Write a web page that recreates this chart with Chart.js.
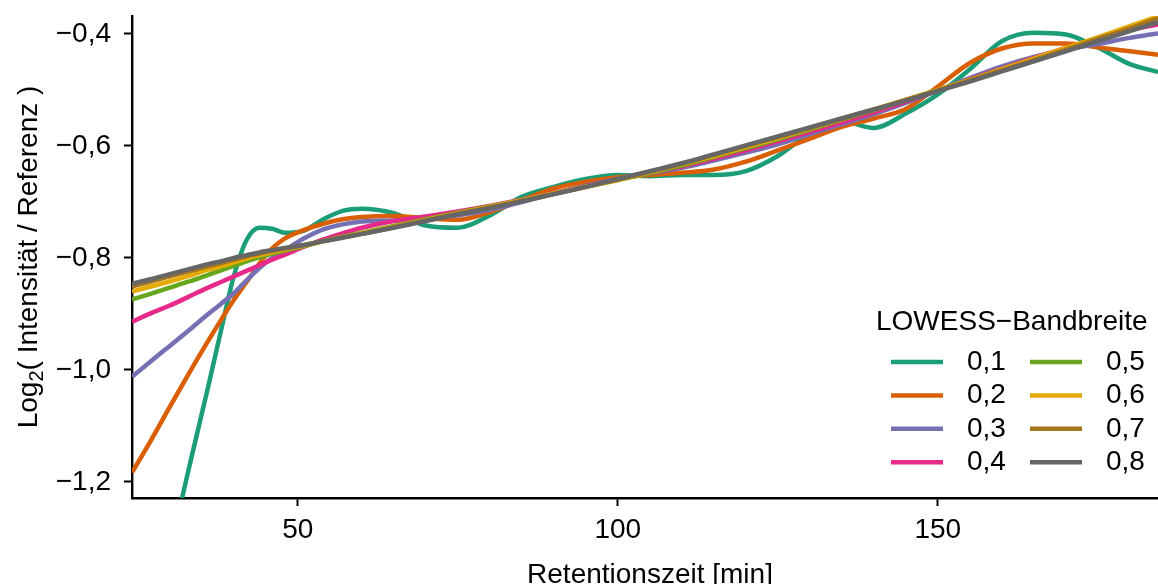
<!DOCTYPE html>
<html>
<head>
<meta charset="utf-8">
<title>LOWESS-Glättung</title>
<script src="https://cdn.jsdelivr.net/npm/chart.js@4"></script>
<style>
  html, body { margin: 0; padding: 0; background: #fff; }
  #wrap { width: 1158px; height: 584px; }
</style>
</head>
<body>
<div id="wrap"><canvas id="lowessChart" width="1158" height="584"></canvas></div>
<script>
// Retentionszeit [min]
var rt = [24.1, 27, 30, 33, 36, 38, 40, 42, 44, 46, 48, 51, 54, 57, 60, 65, 70, 75, 80, 85,
          90, 95, 100, 105, 110, 115, 120, 125, 130, 135, 140, 145, 150, 155, 160, 165, 170, 175, 180, 184.4];

// geglättete Log2-Verhältnisse je Bandbreite
var bw01 = [-1.62, -1.47, -1.325, -1.175, -1.03, -0.93, -0.833, -0.768, -0.746, -0.748, -0.755, -0.751, -0.731, -0.716, -0.712, -0.720, -0.742, -0.746, -0.724, -0.691,
            -0.673, -0.659, -0.652, -0.654, -0.652, -0.652, -0.645, -0.618, -0.578, -0.556, -0.568, -0.542, -0.508, -0.463, -0.413, -0.398, -0.401, -0.424, -0.454, -0.468];
var bw02 = [-1.183, -1.127, -1.066, -1.006, -0.948, -0.911, -0.875, -0.843, -0.810, -0.783, -0.765, -0.750, -0.739, -0.731, -0.727, -0.725, -0.729, -0.732, -0.718, -0.697,
            -0.676, -0.664, -0.656, -0.652, -0.648, -0.642, -0.628, -0.608, -0.587, -0.566, -0.551, -0.534, -0.494, -0.452, -0.426, -0.417, -0.417, -0.424, -0.431, -0.437];
var bw03 = [-1.012, -0.985, -0.957, -0.929, -0.900, -0.882, -0.863, -0.840, -0.818, -0.800, -0.786, -0.765, -0.749, -0.740, -0.735, -0.733, -0.730, -0.724, -0.714, -0.700,
            -0.685, -0.671, -0.659, -0.649, -0.639, -0.626, -0.612, -0.597, -0.579, -0.561, -0.543, -0.523, -0.501, -0.479, -0.458, -0.441, -0.428, -0.418, -0.407, -0.399];
var bw04 = [-0.914, -0.899, -0.885, -0.869, -0.853, -0.843, -0.833, -0.823, -0.813, -0.803, -0.794, -0.780, -0.767, -0.756, -0.746, -0.734, -0.726, -0.717, -0.707, -0.696,
            -0.684, -0.672, -0.660, -0.648, -0.637, -0.623, -0.608, -0.592, -0.575, -0.558, -0.540, -0.521, -0.501, -0.481, -0.462, -0.443, -0.425, -0.408, -0.393, -0.383];
var bw05 = [-0.874, -0.864, -0.853, -0.842, -0.830, -0.822, -0.814, -0.806, -0.799, -0.792, -0.787, -0.779, -0.770, -0.762, -0.755, -0.743, -0.731, -0.719, -0.708, -0.697,
            -0.685, -0.673, -0.661, -0.648, -0.635, -0.620, -0.604, -0.588, -0.571, -0.553, -0.536, -0.518, -0.500, -0.482, -0.463, -0.445, -0.426, -0.407, -0.389, -0.374];
var bw06 = [-0.860, -0.851, -0.842, -0.832, -0.821, -0.815, -0.808, -0.801, -0.795, -0.790, -0.785, -0.778, -0.770, -0.763, -0.756, -0.744, -0.732, -0.720, -0.709, -0.697,
            -0.685, -0.673, -0.661, -0.647, -0.633, -0.618, -0.602, -0.586, -0.569, -0.552, -0.535, -0.518, -0.500, -0.482, -0.463, -0.444, -0.425, -0.406, -0.386, -0.369];
var bw07 = [-0.851, -0.842, -0.833, -0.824, -0.815, -0.809, -0.803, -0.797, -0.792, -0.787, -0.783, -0.777, -0.770, -0.763, -0.757, -0.745, -0.733, -0.721, -0.710, -0.698,
            -0.686, -0.673, -0.660, -0.646, -0.632, -0.616, -0.600, -0.584, -0.568, -0.551, -0.535, -0.518, -0.501, -0.483, -0.465, -0.447, -0.428, -0.409, -0.390, -0.372];
var bw08 = [-0.846, -0.838, -0.829, -0.820, -0.811, -0.806, -0.800, -0.795, -0.790, -0.786, -0.782, -0.777, -0.770, -0.764, -0.757, -0.746, -0.734, -0.722, -0.711, -0.699,
            -0.686, -0.673, -0.659, -0.645, -0.631, -0.615, -0.599, -0.583, -0.567, -0.551, -0.535, -0.519, -0.502, -0.485, -0.467, -0.449, -0.431, -0.413, -0.395, -0.379];

var bandbreiten = ['0,1', '0,2', '0,3', '0,4', '0,5', '0,6', '0,7', '0,8'];
var farben = ['#1B9E77', '#D95F02', '#7570B3', '#E7298A', '#66A61E', '#E6AB02', '#A6761D', '#666666'];

var xTicks = [50, 100, 150];
var xTickLabels = ['50', '100', '150'];
var yTicks = [-1.2, -1.0, -0.8, -0.6, -0.4];
var yTickLabels = ['\u22121,2', '\u22121,0', '\u22120,8', '\u22120,6', '\u22120,4'];

var X_MIN = 24.1, X_MAX = 184.4;
var Y_MIN = -1.2286, Y_MAX = -0.368;

var FONT = "'Liberation Sans', Arial, Helvetica, sans-serif";
Chart.defaults.font.family = FONT;
Chart.defaults.font.size = 28;
Chart.defaults.color = '#000';

var LINIENBREITE = 4.5;
var serien = [bw01, bw02, bw03, bw04, bw05, bw06, bw07, bw08];

function punkte(werte) {
    return rt.map(function(t, i) { return { x: t, y: werte[i] }; });
}

var datasets = serien.map(function(werte, i) {
    return {
        label: bandbreiten[i],
        data: punkte(werte),
        borderColor: farben[i],
        backgroundColor: farben[i],
        borderWidth: LINIENBREITE,
        pointRadius: 0,
        cubicInterpolationMode: 'monotone',
        fill: false,
        order: serien.length - 1 - i   // 0,8 obenauf
    };
});

// Achsentitel und Legende direkt auf den Canvas
var beschriftung = {
    id: 'beschriftung',
    afterDraw: function(chart) {
        var ctx = chart.ctx;
        var area = chart.chartArea;
        ctx.save();
        ctx.fillStyle = '#000';

        // x-Achsentitel
        ctx.font = '28px ' + FONT;
        ctx.textAlign = 'center';
        ctx.textBaseline = 'alphabetic';
        ctx.fillText('Retentionszeit [min]', (area.left + area.right) / 2 + 5, 583);

        // y-Achsentitel mit tiefgestellter 2
        var teil1 = 'Log', teil2 = '2', teil3 = '( Intensit\u00e4t / Referenz )';
        ctx.font = '28px ' + FONT;
        var w1 = ctx.measureText(teil1).width;
        var w3 = ctx.measureText(teil3).width;
        ctx.font = '20px ' + FONT;
        var w2 = ctx.measureText(teil2).width;
        var gesamt = w1 + w2 + w3;
        ctx.save();
        ctx.translate(37, (area.top + area.bottom) / 2);
        ctx.rotate(-Math.PI / 2);
        ctx.textAlign = 'left';
        var x0 = -gesamt / 2;
        ctx.font = '28px ' + FONT;
        ctx.fillText(teil1, x0, 0);
        ctx.font = '20px ' + FONT;
        ctx.fillText(teil2, x0 + w1, 6);
        ctx.font = '28px ' + FONT;
        ctx.fillText(teil3, x0 + w1 + w2, 0);
        ctx.restore();

        // Legende: Titel und zwei Spalten zu je vier Einträgen
        ctx.textAlign = 'left';
        ctx.textBaseline = 'middle';
        ctx.font = '28px ' + FONT;
        ctx.fillText('LOWESS\u2212Bandbreite', 876, 322);

        var spalteLinie = [891, 1030];
        var spalteText = [967, 1106];
        var linienLaenge = 52;
        chart.data.datasets.forEach(function(ds, i) {
            var s = Math.floor(i / 4), z = i % 4;
            var y = 362 + z * 33.4;
            ctx.strokeStyle = ds.borderColor;
            ctx.lineWidth = LINIENBREITE;
            ctx.lineCap = 'butt';
            ctx.beginPath();
            ctx.moveTo(spalteLinie[s], y);
            ctx.lineTo(spalteLinie[s] + linienLaenge, y);
            ctx.stroke();
            ctx.fillText(ds.label, spalteText[s], y);
        });
        ctx.restore();
    }
};

var weissHintergrund = {
    id: 'weissHintergrund',
    beforeDraw: function(chart) {
        var ctx = chart.ctx;
        ctx.save();
        ctx.fillStyle = '#fff';
        ctx.fillRect(0, 0, chart.width, chart.height);
        ctx.restore();
    }
};

new Chart(document.getElementById('lowessChart'), {
    type: 'line',
    data: { datasets: datasets },
    plugins: [weissHintergrund, beschriftung],
    options: {
        responsive: false,
        animation: false,
        devicePixelRatio: 1,
        layout: { padding: { top: 16, right: 0, bottom: 0, left: 0 } },
        plugins: {
            legend: { display: false },
            tooltip: { enabled: false },
            title: { display: false }
        },
        scales: {
            x: {
                type: 'linear',
                min: X_MIN,
                max: X_MAX,
                afterBuildTicks: function(s) { s.ticks = xTicks.map(function(v) { return { value: v }; }); },
                afterFit: function(s) { s.height = 86; s.paddingLeft = 0; s.paddingRight = 0; },
                ticks: {
                    color: '#000',
                    padding: 7,
                    maxRotation: 0,
                    autoSkip: false,
                    callback: function(v, i) { return xTickLabels[i]; }
                },
                grid: { drawOnChartArea: false, drawTicks: true, tickLength: 8, tickWidth: 2, tickColor: '#000' },
                border: { display: true, color: '#000', width: 2.4 }
            },
            y: {
                type: 'linear',
                min: Y_MIN,
                max: Y_MAX,
                afterBuildTicks: function(s) { s.ticks = yTicks.map(function(v) { return { value: v }; }); },
                afterFit: function(s) { s.width = 132; s.paddingTop = 0; s.paddingBottom = 0; },
                ticks: {
                    color: '#000',
                    padding: 13,
                    autoSkip: false,
                    callback: function(v, i) { return yTickLabels[i]; }
                },
                grid: { drawOnChartArea: false, drawTicks: true, tickLength: 8, tickWidth: 2, tickColor: '#000' },
                border: { display: true, color: '#000', width: 2.4 }
            }
        }
    }
});
</script>
</body>
</html>
